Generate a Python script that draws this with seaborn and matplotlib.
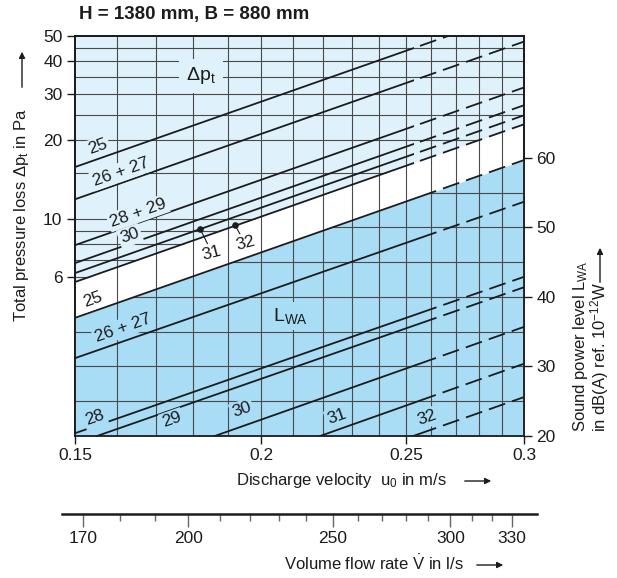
import matplotlib
matplotlib.use("Agg")
import matplotlib.pyplot as plt
import seaborn as sns
from matplotlib import font_manager
from matplotlib.patches import Rectangle, FancyArrowPatch
from matplotlib.ticker import FixedLocator, FixedFormatter, NullLocator
from matplotlib.transforms import blended_transform_factory

# ---- values ----
u_ends = [0.15, 0.30]                      # discharge velocity at the frame edges, m/s
dp_names = ["25", "26 + 27", "28 + 29", "30", "31", "32"]
dp_at_015 = [15.8, 11.9, 7.95, 6.79, 6.22, 5.75]      # Pa
dp_at_030 = [63.2, 47.6, 31.8, 27.2, 24.9, 23.0]
lwa_names = ["25", "26 + 27", "28", "29", "30", "31", "32"]
lwa_at_015 = [37.0, 31.2, 20.4, 18.9, 12.9, 7.5, 2.9]  # dB(A)
lwa_at_030 = [59.7, 53.7, 42.9, 41.4, 35.7, 30.4, 25.6]
dp_solid_to = 0.253      # beyond this the lines go on dashed
lwa_solid_to = 0.257
dot_u = [0.182, 0.192]
dot_dp = [9.16, 9.49]

u_ticks = [0.15, 0.2, 0.25, 0.3]
u_ticklabels = ["0.15", "0.2", "0.25", "0.3"]
u_grid = [0.16, 0.17, 0.18, 0.19, 0.20, 0.21, 0.22, 0.23, 0.24, 0.25,
          0.26, 0.27, 0.28, 0.29]
dp_ticks = [6, 10, 20, 30, 40, 50]
dp_grid = [6, 7, 8, 9, 10, 15, 20, 25, 30, 35, 40, 45]
lwa_ticks = [20, 30, 40, 50, 60]
lwa_grid = [25, 30, 35, 40, 45, 50, 55]
flow_major = [170, 200, 250, 300, 330]
flow_minor = [180, 190, 210, 220, 230, 240, 260, 270, 280, 290, 310, 320]

# ---- style ----
sns.set_theme(style="ticks")
installed = {f.name for f in font_manager.fontManager.ttflist}
narrow = "Liberation Sans Narrow" in installed
base = "Liberation Sans Narrow" if narrow else "Liberation Sans"
plt.rcParams["font.family"] = [base, "DejaVu Sans"]
plt.rcParams["mathtext.fontset"] = "custom"
plt.rcParams["mathtext.rm"] = base
plt.rcParams["mathtext.it"] = base + ":italic"
fs = 13.5 if narrow else 12.5      # ticks and line labels
cap = 13 if narrow else 12         # axis captions
ink = "#1c1c1c"
grid_c = "#4a4a4a"
light = "#dff1fa"
dark = "#a9dcf5"
dash = (0, (9.5, 4))

W, H = 617, 578
fig = plt.figure(figsize=(W / 100, H / 100), dpi=100)


def fpos(px, py):
    return px / W, 1 - py / H


L, R, T, B = 75, 524, 36, 436


def apos(px, py):
    return (px - L) / (R - L), (B - py) / (B - T)


ax = fig.add_axes([L / W, 1 - B / H, (R - L) / W, (B - T) / H])
ax.set_xscale("log")
ax.set_yscale("log")
ax.set_xlim(*u_ends)
ax.set_ylim(1.485, 50)
ax.set_facecolor(light)
tw = ax.twinx()
tw.set_ylim(20, 77.55)

# pressure grid (only shows in the light field)
for v in dp_grid:
    ax.axhline(v, color=grid_c, lw=0.8, zorder=1)
# white band under the lowest pressure line
ax.fill_between(u_ends, 1.0, [dp_at_015[-1], dp_at_030[-1]], color="white",
                lw=0, zorder=2)
# dark field under the LWA 25 line
dark_fill = ax.fill_between(u_ends, 0, [lwa_at_015[0], lwa_at_030[0]],
                            transform=tw.transData, color=dark, lw=0, zorder=3)
for v in lwa_grid:
    ln = tw.axhline(v, color=grid_c, lw=0.8, zorder=1)
    ln.set_clip_path(dark_fill.get_paths()[0], dark_fill.get_transform())
for u in u_grid:
    ax.axvline(u, color=grid_c, lw=0.8, zorder=4)

blend = blended_transform_factory(ax.transData, ax.transAxes)


def clip_rect(x0, x1):
    return Rectangle((x0, 0), x1 - x0, 1, transform=blend)


def draw_line(target, y0, y1, solid_to, z):
    sns.lineplot(x=u_ends, y=[y0, y1], ax=target, color=ink, lw=1.3,
                 zorder=z, legend=False)
    target.lines[-1].set_clip_path(clip_rect(u_ends[0], solid_to))
    sns.lineplot(x=u_ends, y=[y0, y1], ax=target, color=ink, lw=1.3,
                 linestyle=dash, zorder=z, legend=False)
    target.lines[-1].set_clip_path(clip_rect(solid_to, u_ends[1]))


for y0, y1 in zip(dp_at_015, dp_at_030):
    draw_line(ax, y0, y1, dp_solid_to, 6)
for y0, y1 in zip(lwa_at_015, lwa_at_030):
    draw_line(tw, y0, y1, lwa_solid_to, 3)

ax.scatter(dot_u, dot_dp, s=14, color=ink, zorder=8)

# ---- line labels ----
rot = 19.5
dp_label_px = [(98, 147), (121, 172), (138, 213), (130, 236), (212, 253), (245, 243)]
for i, name in enumerate(dp_names):
    fc = light if i < 4 else "white"
    kw = dict(ha="center", va="center", fontsize=fs, color=ink, zorder=7,
              bbox=dict(boxstyle="square,pad=0.12", fc=fc, ec="none"))
    if i < 4:
        ax.text(*apos(*dp_label_px[i]), name, rotation=rot,
                transform=ax.transAxes, **kw)
    else:
        ax.annotate(name, xy=(dot_u[i - 4], dot_dp[i - 4]),
                    xytext=apos(*dp_label_px[i]), textcoords="axes fraction",
                    rotation=15,
                    arrowprops=dict(arrowstyle="-", color=ink, lw=0.8,
                                    shrinkA=0, shrinkB=0), **kw)

lwa_label_px = [(93, 300), (123, 328), (95, 418), (172, 420), (242, 410),
                (337, 417), (427, 418)]
for i, name in enumerate(lwa_names):
    fc = "white" if i == 0 else dark
    tw.text(*apos(*lwa_label_px[i]), name, rotation=rot, ha="center", va="center",
            fontsize=fs, color=ink, transform=tw.transAxes, zorder=5,
            bbox=dict(boxstyle="square,pad=0.12", fc=fc, ec="none"))

ax.text(*apos(201, 76), r"Δp$_\mathrm{t}$", ha="center", va="center",
        fontsize=fs + 1.5, color=ink, transform=ax.transAxes, zorder=7,
        bbox=dict(boxstyle="square,pad=0.35", fc=light, ec="none"))
tw.text(*apos(290, 316), r"L$_\mathrm{WA}$", ha="center", va="center",
        fontsize=fs + 1.5, color=ink, transform=tw.transAxes, zorder=5,
        bbox=dict(boxstyle="square,pad=0.2", fc=dark, ec="none"))

# ---- axes, ticks ----
ax.xaxis.set_major_locator(FixedLocator(u_ticks))
ax.xaxis.set_major_formatter(FixedFormatter(u_ticklabels))
ax.xaxis.set_minor_locator(NullLocator())
ax.yaxis.set_major_locator(FixedLocator(dp_ticks))
ax.yaxis.set_major_formatter(FixedFormatter([str(v) for v in dp_ticks]))
ax.yaxis.set_minor_locator(NullLocator())
tw.yaxis.set_major_locator(FixedLocator(lwa_ticks))
tw.yaxis.set_major_formatter(FixedFormatter([str(v) for v in lwa_ticks]))
tw.yaxis.set_minor_locator(NullLocator())
for a in (ax, tw):
    a.tick_params(which="major", direction="out", length=6, width=1.0,
                  color=ink, labelcolor=ink, labelsize=fs, pad=3)
    for s in a.spines.values():
        s.set_linewidth(1.3)
        s.set_color(ink)
ax.tick_params(axis="y", right=False)
ax.set_xlabel("")
ax.set_ylabel("")
tw.set_ylabel("")

# volume flow scale below
fax = fig.add_axes([62 / W, 1 - 514 / H, (537 - 62) / W, 0.0001])
fax.set_xscale("log")
fax.set_xlim(164.5, 343)
fax.patch.set_visible(False)
for side in ("left", "right", "top"):
    fax.spines[side].set_visible(False)
fax.spines["bottom"].set_linewidth(1.8)
fax.spines["bottom"].set_color(ink)
fax.set_yticks([])
fax.xaxis.set_major_locator(FixedLocator(flow_major))
fax.xaxis.set_major_formatter(FixedFormatter([str(v) for v in flow_major]))
fax.xaxis.set_minor_locator(FixedLocator(flow_minor))
fax.xaxis.set_minor_formatter(FixedFormatter([""] * len(flow_minor)))
fax.tick_params(axis="x", which="major", direction="out", length=9, width=1,
                color="#666666", labelcolor=ink, labelsize=fs, pad=3)
fax.tick_params(axis="x", which="minor", direction="out", length=5, width=1,
                color="#666666")

# ---- titles and axis captions ----
fig.text(*fpos(79, 15), "H = 1380 mm, B = 880 mm", fontsize=fs + 1,
         fontweight="bold", color=ink, ha="left", va="center")
fig.text(*fpos(22, 322), r"Total pressure loss Δp$_\mathrm{t}$ in Pa", rotation=90,
         ha="center", va="bottom", fontsize=cap, color=ink)
fig.text(*fpos(580, 432), r"Sound power level L$_\mathrm{WA}$", rotation=90,
         ha="center", va="bottom", fontsize=cap, color=ink)
fig.text(*fpos(600, 432), r"in dB(A) ref. 10$^{-12}$W", rotation=90,
         ha="center", va="bottom", fontsize=cap, color=ink)
fig.text(*fpos(236, 480), r"Discharge velocity  u$_0$ in m/s", ha="left",
         va="center", fontsize=cap, color=ink)
fig.text(*fpos(284, 563), r"Volume flow rate $\dot{\mathrm{V}}$ in l/s", ha="left",
         va="center", fontsize=cap, color=ink)

arrow = dict(arrowstyle="-|>", color=ink, lw=1.0, mutation_scale=9)
for start, end in [((22, 90), (22, 49)), ((600, 285), (600, 245)),
                   ((462, 481), (494, 481)), ((474, 565), (506, 565))]:
    fig.add_artist(FancyArrowPatch(fpos(*start), fpos(*end),
                                   transform=fig.transFigure, **arrow))

fig.savefig("out.png", dpi=100)
